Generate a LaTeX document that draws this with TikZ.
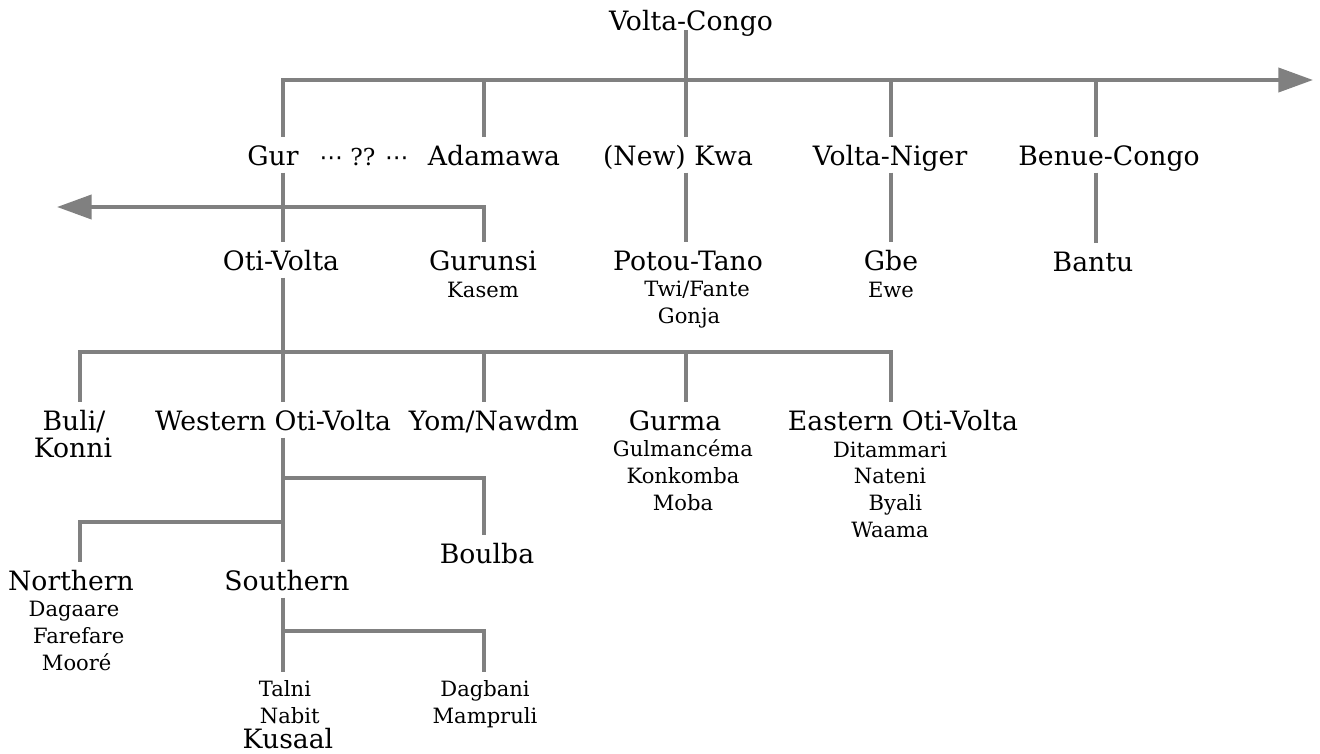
\documentclass[tikz,border=0pt]{standalone}
\usepackage{fontspec}
\setmainfont{DejaVu Serif}
\newfontfamily\dotsfont{DejaVu Sans}
\usetikzlibrary{arrows.meta}
\definecolor{linegray}{RGB}{128,128,128}
\tikzset{
  group/.style={anchor=base, font=\fontsize{20}{22}\selectfont, inner xsep=2pt, inner ysep=1pt, text height=20pt, text depth=4.6pt},
  members/.style={anchor=base, font=\fontsize{15.8}{19.9}\selectfont, align=center, inner sep=6pt},
  branch/.style={draw=linegray, line width=3pt},
  tip/.style={-{Triangle[length=26pt,width=18pt]}}
}

\begin{document}
\begin{tikzpicture}
  [x=0.75pt, y=-0.75pt]
  \useasboundingbox (0,0) rectangle (1320,753);

  \node[group] (vc) at (691, 30) {Volta-Congo};
  \node[group] (gur) at (273, 165) {Gur};
  \node[members, inner sep=0pt, font=\fontsize{17.5}{20}\selectfont] (qq) at (364, 165) {{\dotsfont ⋯} ?? {\dotsfont ⋯}};
  \node[group] (adam) at (494, 165) {Adamawa};
  \node[group] (kwa) at (678, 165) {(New) Kwa};
  \node[group] (vn) at (890, 165) {Volta-Niger};
  \node[group] (bc) at (1109, 165) {Benue-Congo};

  \node[group] (oti) at (281, 270) {Oti-Volta};
  \node[group] (gurunsi) at (483, 270) {Gurunsi};
  \node[members] (kasem) at (483, 297) {Kasem};
  \node[group] (potou) at (688, 270) {Potou-Tano};
  \node[members] (potoumem) at (689, 323) {\hspace*{12pt}Twi/Fante\\Gonja};
  \node[group] (gbe) at (891, 270) {Gbe};
  \node[members] (ewe) at (891, 297) {Ewe};
  \node[group] (bantu) at (1093, 271) {Bantu};

  \node[group] (buli) at (74, 430) {Buli/};
  \node[group] (konni) at (73, 457) {Konni};
  \node[group] (wov) at (273, 430) {Western Oti-Volta};
  \node[group] (yom) at (494, 430) {Yom/Nawdm};
  \node[group] (gurma) at (675, 430) {Gurma};
  \node[members] (gurmamem) at (683, 510) {Gulmancéma\\Konkomba\\Moba};
  \node[group] (eov) at (903, 430) {Eastern Oti-Volta};
  \node[members] (eovmem) at (890, 537) {Ditammari\\Nateni\\\hspace*{8pt}Byali\\Waama};

  \node[group] (boulba) at (487, 563) {Boulba};
  \node[group] (north) at (71, 590) {Northern};
  \node[members] (northmem) at (74, 670) {Dagaare\\\hspace*{7pt}Farefare\\\hspace*{4pt}Mooré};
  \node[group] (south) at (287, 590) {Southern};
  \node[members] (talni) at (285, 723) {Talni\\\hspace*{7pt}Nabit};
  \node[group] (kusaal) at (288, 748) {Kusaal};
  \node[members] (dag) at (485, 723) {Dagbani\\Mampruli};

  \coordinate (jada) at (484, 80);
  \coordinate (jkwa) at (686, 80);
  \coordinate (jvn) at (891, 80);
  \coordinate (jbc) at (1096, 80);
  \coordinate (tipR) at (1313, 80);
  \coordinate (jgun) at (484, 207);
  \coordinate (tipL) at (57, 207);
  \coordinate (jbuli) at (80, 352);
  \coordinate (jwov) at (283, 352);
  \coordinate (jyom) at (484, 352);
  \coordinate (jgurma) at (686, 352);
  \coordinate (jeov) at (891, 352);
  \coordinate (jwb) at (283, 478);
  \coordinate (jboul) at (484, 478);
  \coordinate (jwn) at (283, 522);
  \coordinate (jnor) at (80, 522);
  \coordinate (jsd) at (283, 631);
  \coordinate (jdag) at (484, 631);

  \draw[branch, tip] (gur.north -| jwov) |- (tipR);
  \draw[branch] (vc.base -| jkwa) -- (kwa.north -| jkwa);
  \foreach \j/\n in {jada/adam, jvn/vn, jbc/bc}
    \draw[branch] (\j) -- (\j |- \n.north);
  \foreach \a/\b/\j in {gur/oti/jwov, kwa/potou/jkwa, vn/gbe/jvn, bc/bantu/jbc, oti/wov/jwov, wov/south/jwov}
    \draw[branch] (\a.south -| \j) -- (\b.north -| \j);
  \draw[branch, tip] (gurunsi.north -| jgun) |- (tipL);

  \draw[branch] (buli.north -| jbuli) -- (jbuli) -- (jeov) -- (eov.north -| jeov);
  \foreach \j/\n in {jyom/yom, jgurma/gurma}
    \draw[branch] (\j) -- (\j |- \n.north);

  \draw[branch] (jwb) -- (jboul) -- (jboul |- boulba.north);
  \draw[branch] (jwn) -- (jnor) -- (jnor |- north.north);
  \draw[branch] (south.south -| jsd) -- (jsd |- talni.north);
  \draw[branch] (jsd) -- (jdag) -- (jdag |- dag.north);
\end{tikzpicture}
\end{document}
